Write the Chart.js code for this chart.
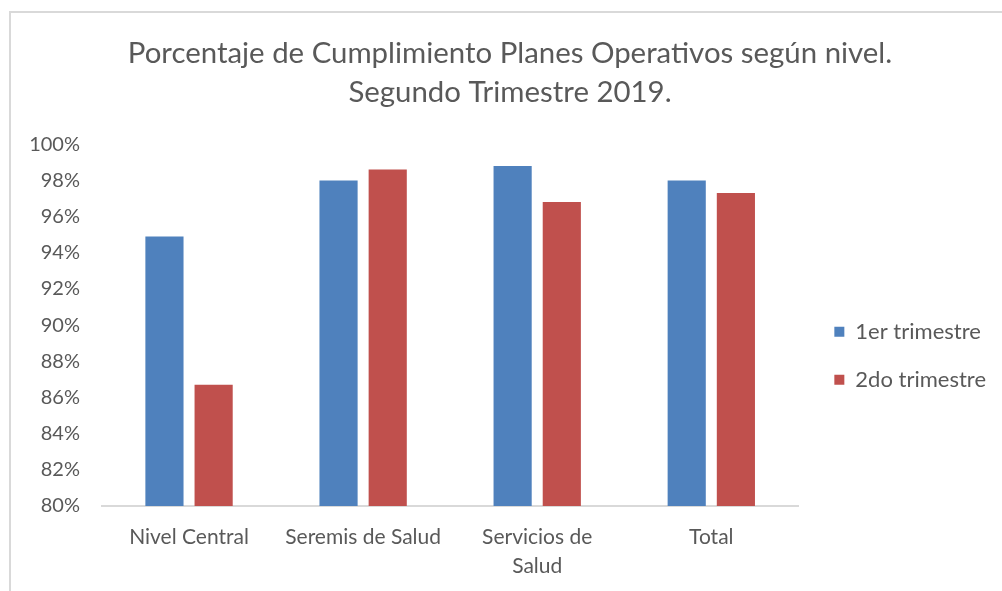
<!DOCTYPE html>
<html>
<head>
<meta charset="utf-8">
<script src="https://cdn.jsdelivr.net/npm/chart.js@4.4.1/dist/chart.umd.min.js"></script>
<style>
  html, body { margin: 0; padding: 0; background: #fff; }
  #wrap { position: absolute; left: 0; top: 0; width: 1002px; height: 591px; }
  #frame { position: absolute; left: 9px; top: 11px; width: 1100px; height: 700px;
           border-left: 2px solid #d9d9d9; border-top: 2px solid #d9d9d9; box-sizing: border-box; }
  canvas { position: absolute; left: 0; top: 0; }
</style>
</head>
<body>
<div id="wrap">
  <div id="frame"></div>
  <canvas id="c" width="1002" height="591"></canvas>
</div>
<script>
const categories = ["Nivel Central", "Seremis de Salud", ["Servicios de", "Salud"], "Total"];
const seriesNames = ["1er trimestre", "2do trimestre"];
const primerTrimestre = [94.9, 98.0, 98.8, 98.0];
const segundoTrimestre = [86.7, 98.6, 96.8, 97.3];
const yTicks = [80, 82, 84, 86, 88, 90, 92, 94, 96, 98, 100];
const titleLines = ["Porcentaje de Cumplimiento Planes Operativos según nivel.", "Segundo Trimestre 2019."];

const FONT = "Lato, 'Open Sans', sans-serif";
const TEXT = "#595959";

// nudge the legend and title drawings horizontally
function wrapShift(box, dx) {
  if (box && !box._shiftWrapped) {
    const orig = box.draw.bind(box);
    box.draw = function (area) {
      const ctx = this.ctx;
      ctx.save();
      ctx.translate(dx, 0);
      orig(area);
      ctx.restore();
    };
    box._shiftWrapped = true;
  }
}
const boxShift = {
  id: "boxShift",
  afterLayout(chart) {
    wrapShift(chart.legend, 10);
    wrapShift(chart.titleBlock, 17);
  }
};

new Chart(document.getElementById("c"), {
  type: "bar",
  data: {
    labels: categories,
    datasets: [
      { label: seriesNames[0], data: primerTrimestre, backgroundColor: "#4F81BD" },
      { label: seriesNames[1], data: segundoTrimestre, backgroundColor: "#C0504D" }
    ]
  },
  plugins: [boxShift],
  options: {
    responsive: false,
    animation: false,
    devicePixelRatio: 1,
    layout: { padding: { left: 0, right: 16, top: 34, bottom: 8 } },
    datasets: { bar: { categoryPercentage: 0.565, barPercentage: 0.776 } },
    plugins: {
      title: {
        display: true,
        text: titleLines,
        color: TEXT,
        font: { family: FONT, size: 29.4, weight: "normal", lineHeight: 1.33 },
        padding: { top: 0, bottom: 32 }
      },
      legend: {
        position: "right",
        title: { display: true, text: "", padding: { top: 80, bottom: 0 }, font: { size: 12 } },
        labels: {
          color: TEXT,
          font: { family: FONT, size: 22 },
          boxWidth: 10, boxHeight: 10,
          padding: 26
        }
      },
      tooltip: { enabled: false }
    },
    scales: {
      y: {
        min: 80, max: 100,
        afterBuildTicks: (axis) => { axis.ticks = yTicks.map(v => ({ value: v })); },
        afterFit: (axis) => { axis.width = 102; },
        ticks: {
          color: TEXT,
          font: { family: FONT, size: 20 },
          padding: 14,
          callback: (v) => v + "%"
        },
        grid: { display: false },
        border: { display: false }
      },
      x: {
        afterFit: (axis) => { axis.height = 77; },
        ticks: {
          color: TEXT,
          font: { family: FONT, size: 21, lineHeight: 1.38 },
          padding: 9,
          maxRotation: 0, autoSkip: false
        },
        grid: { display: false },
        border: { display: true, color: "#d9d9d9", width: 2 }
      }
    }
  }
});
</script>
</body>
</html>
